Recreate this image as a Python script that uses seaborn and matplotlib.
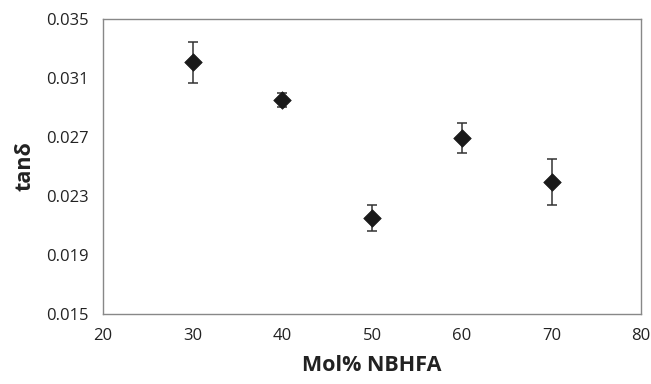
import matplotlib
matplotlib.use("Agg")
import matplotlib.pyplot as plt
import seaborn as sns
import pandas as pd

# data
mol_pct = [30, 40, 50, 60, 70]
tan_delta = [0.03208, 0.02951, 0.02151, 0.02693, 0.02395]
tan_err = [0.00139, 0.00050, 0.00088, 0.00103, 0.00157]

x_ticks = [20, 30, 40, 50, 60, 70, 80]
y_ticks = [0.015, 0.019, 0.023, 0.027, 0.031, 0.035]

df = pd.DataFrame({'mol': mol_pct, 'tan': tan_delta, 'err': tan_err})

sns.set_style('white')
plt.rcParams['font.family'] = ['Open Sans', 'DejaVu Sans']

fig = plt.figure(figsize=(6.51, 3.84), dpi=100)
ax = fig.add_axes([0.158, 0.182, 0.827, 0.7685])

ax.errorbar(df['mol'], df['tan'], yerr=df['err'], fmt='none',
            ecolor='#333333', elinewidth=1.1, capsize=3.5, capthick=1.1,
            zorder=2)
sns.scatterplot(data=df, x='mol', y='tan', ax=ax, marker='D', s=80,
                color='#1a1a1a', edgecolor='#1a1a1a', linewidth=0.5,
                zorder=3)

ax.set_xlim(20, 80)
ax.set_ylim(0.015, 0.035)
ax.set_xticks(x_ticks)
ax.set_yticks(y_ticks)
ax.set_xticklabels([str(v) for v in x_ticks])
ax.set_yticklabels([f'{v:.3f}' for v in y_ticks])
ax.tick_params(axis='both', direction='out', length=4, width=0.8,
               color='#888888', labelsize=12, labelcolor='#222222')
ax.tick_params(axis='x', pad=6)
ax.tick_params(axis='y', pad=6)

for sp in ax.spines.values():
    sp.set_color('#888888')
    sp.set_linewidth(1.0)
    sp.set_visible(True)

ax.set_xlabel('Mol% NBHFA', fontsize=15.5, fontweight='bold',
              color='#222222', labelpad=8)
ax.set_ylabel('tanδ', fontsize=15.5, fontweight='bold', color='#222222',
              labelpad=8)

fig.savefig('out.png', dpi=100)
